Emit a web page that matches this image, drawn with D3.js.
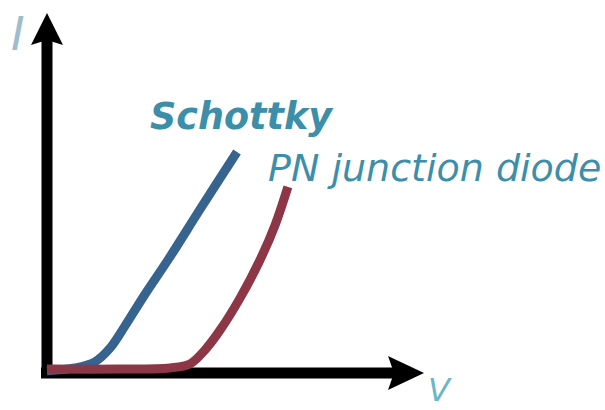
<!DOCTYPE html>
<html>
<head>
<meta charset="utf-8">
<script src="https://cdn.jsdelivr.net/npm/d3@7"></script>
<style>
  body { margin: 0; background: #fff; }
  svg { display: block; }
</style>
</head>
<body>
<div id="chart"></div>
<script>
// Chart area
var svgWidth = 605;
var svgHeight = 410;

// Curve data (V and I in % of axis length)
var schottkyV = [0, 7.4, 12.7, 16.7, 20.7, 25.7, 32.4, 40.5, 50.4];
var schottkyI = [0.6, 1.4, 3.1, 6.9, 13.1, 21.4, 31.9, 45.3, 61.4];
var pnV = [0, 19.4, 32.6, 37.9, 41.9, 45.9, 51.2, 56.5, 60.5, 63.9];
var pnI = [1.1, 1.1, 1.4, 2.5, 6.4, 11.9, 20.8, 31.4, 41.1, 51.7];

// Labels
var labels = ["Schottky", "PN junction diode"];
var axisLabels = ["I", "V"];

var svg = d3.select("#chart")
  .append("svg")
  .attr("width", svgWidth)
  .attr("height", svgHeight);

// Scales: origin at (47, 373), axis ends at arrow tips
var xScale = d3.scaleLinear().domain([0, 100]).range([47, 424]);
var yScale = d3.scaleLinear().domain([0, 100]).range([373, 13]);

// Axes (thick black lines with arrowheads)
var ox = xScale(0), oy = yScale(0);
var xEnd = xScale(100), yEnd = yScale(100);

svg.append("line")
  .attr("x1", ox - 6).attr("y1", oy)
  .attr("x2", xEnd - 20).attr("y2", oy)
  .attr("stroke", "#000")
  .attr("stroke-width", 11);

svg.append("line")
  .attr("x1", ox).attr("y1", oy + 5)
  .attr("x2", ox).attr("y2", yEnd + 20)
  .attr("stroke", "#000")
  .attr("stroke-width", 11);

svg.append("path")
  .attr("d", `M${xEnd},${oy} L${xEnd - 36},${oy - 17} L${xEnd - 30},${oy} L${xEnd - 36},${oy + 17} Z`)
  .attr("fill", "#000");

svg.append("path")
  .attr("d", `M${ox},${yEnd} L${ox - 16},${yEnd + 32} L${ox},${yEnd + 27} L${ox + 16},${yEnd + 32} Z`)
  .attr("fill", "#000");

// Curves
var line = d3.line()
  .x(d => xScale(d[0]))
  .y(d => yScale(d[1]))
  .curve(d3.curveCatmullRom.alpha(0.5));

svg.append("path")
  .datum(d3.zip(schottkyV, schottkyI))
  .attr("d", line)
  .attr("fill", "none")
  .attr("stroke", "#36648f")
  .attr("stroke-width", 9);

svg.append("path")
  .datum(d3.zip(pnV, pnI))
  .attr("d", line)
  .attr("fill", "none")
  .attr("stroke", "#8c3646")
  .attr("stroke-width", 9);

// Curve labels
svg.append("text")
  .text(labels[0])
  .attr("x", 150)
  .attr("y", 129)
  .attr("font-family", "DejaVu Sans")
  .attr("font-style", "italic")
  .attr("font-weight", "bold")
  .attr("font-size", 36.5)
  .attr("fill", "#3d8ea8");

svg.append("text")
  .text(labels[1])
  .attr("x", 268)
  .attr("y", 181)
  .attr("font-family", "DejaVu Sans")
  .attr("font-style", "italic")
  .attr("font-size", 38)
  .attr("fill", "#3d8ea8");

// Axis labels
svg.append("text")
  .text(axisLabels[0])
  .attr("x", 11)
  .attr("y", 50)
  .attr("font-family", "DejaVu Sans")
  .attr("font-style", "italic")
  .attr("font-size", 46)
  .attr("fill", "#9dbccd");

svg.append("text")
  .text(axisLabels[1])
  .attr("x", 428)
  .attr("y", 401)
  .attr("font-family", "DejaVu Sans")
  .attr("font-style", "italic")
  .attr("font-size", 32)
  .attr("fill", "#6cb6c8");
</script>
</body>
</html>
